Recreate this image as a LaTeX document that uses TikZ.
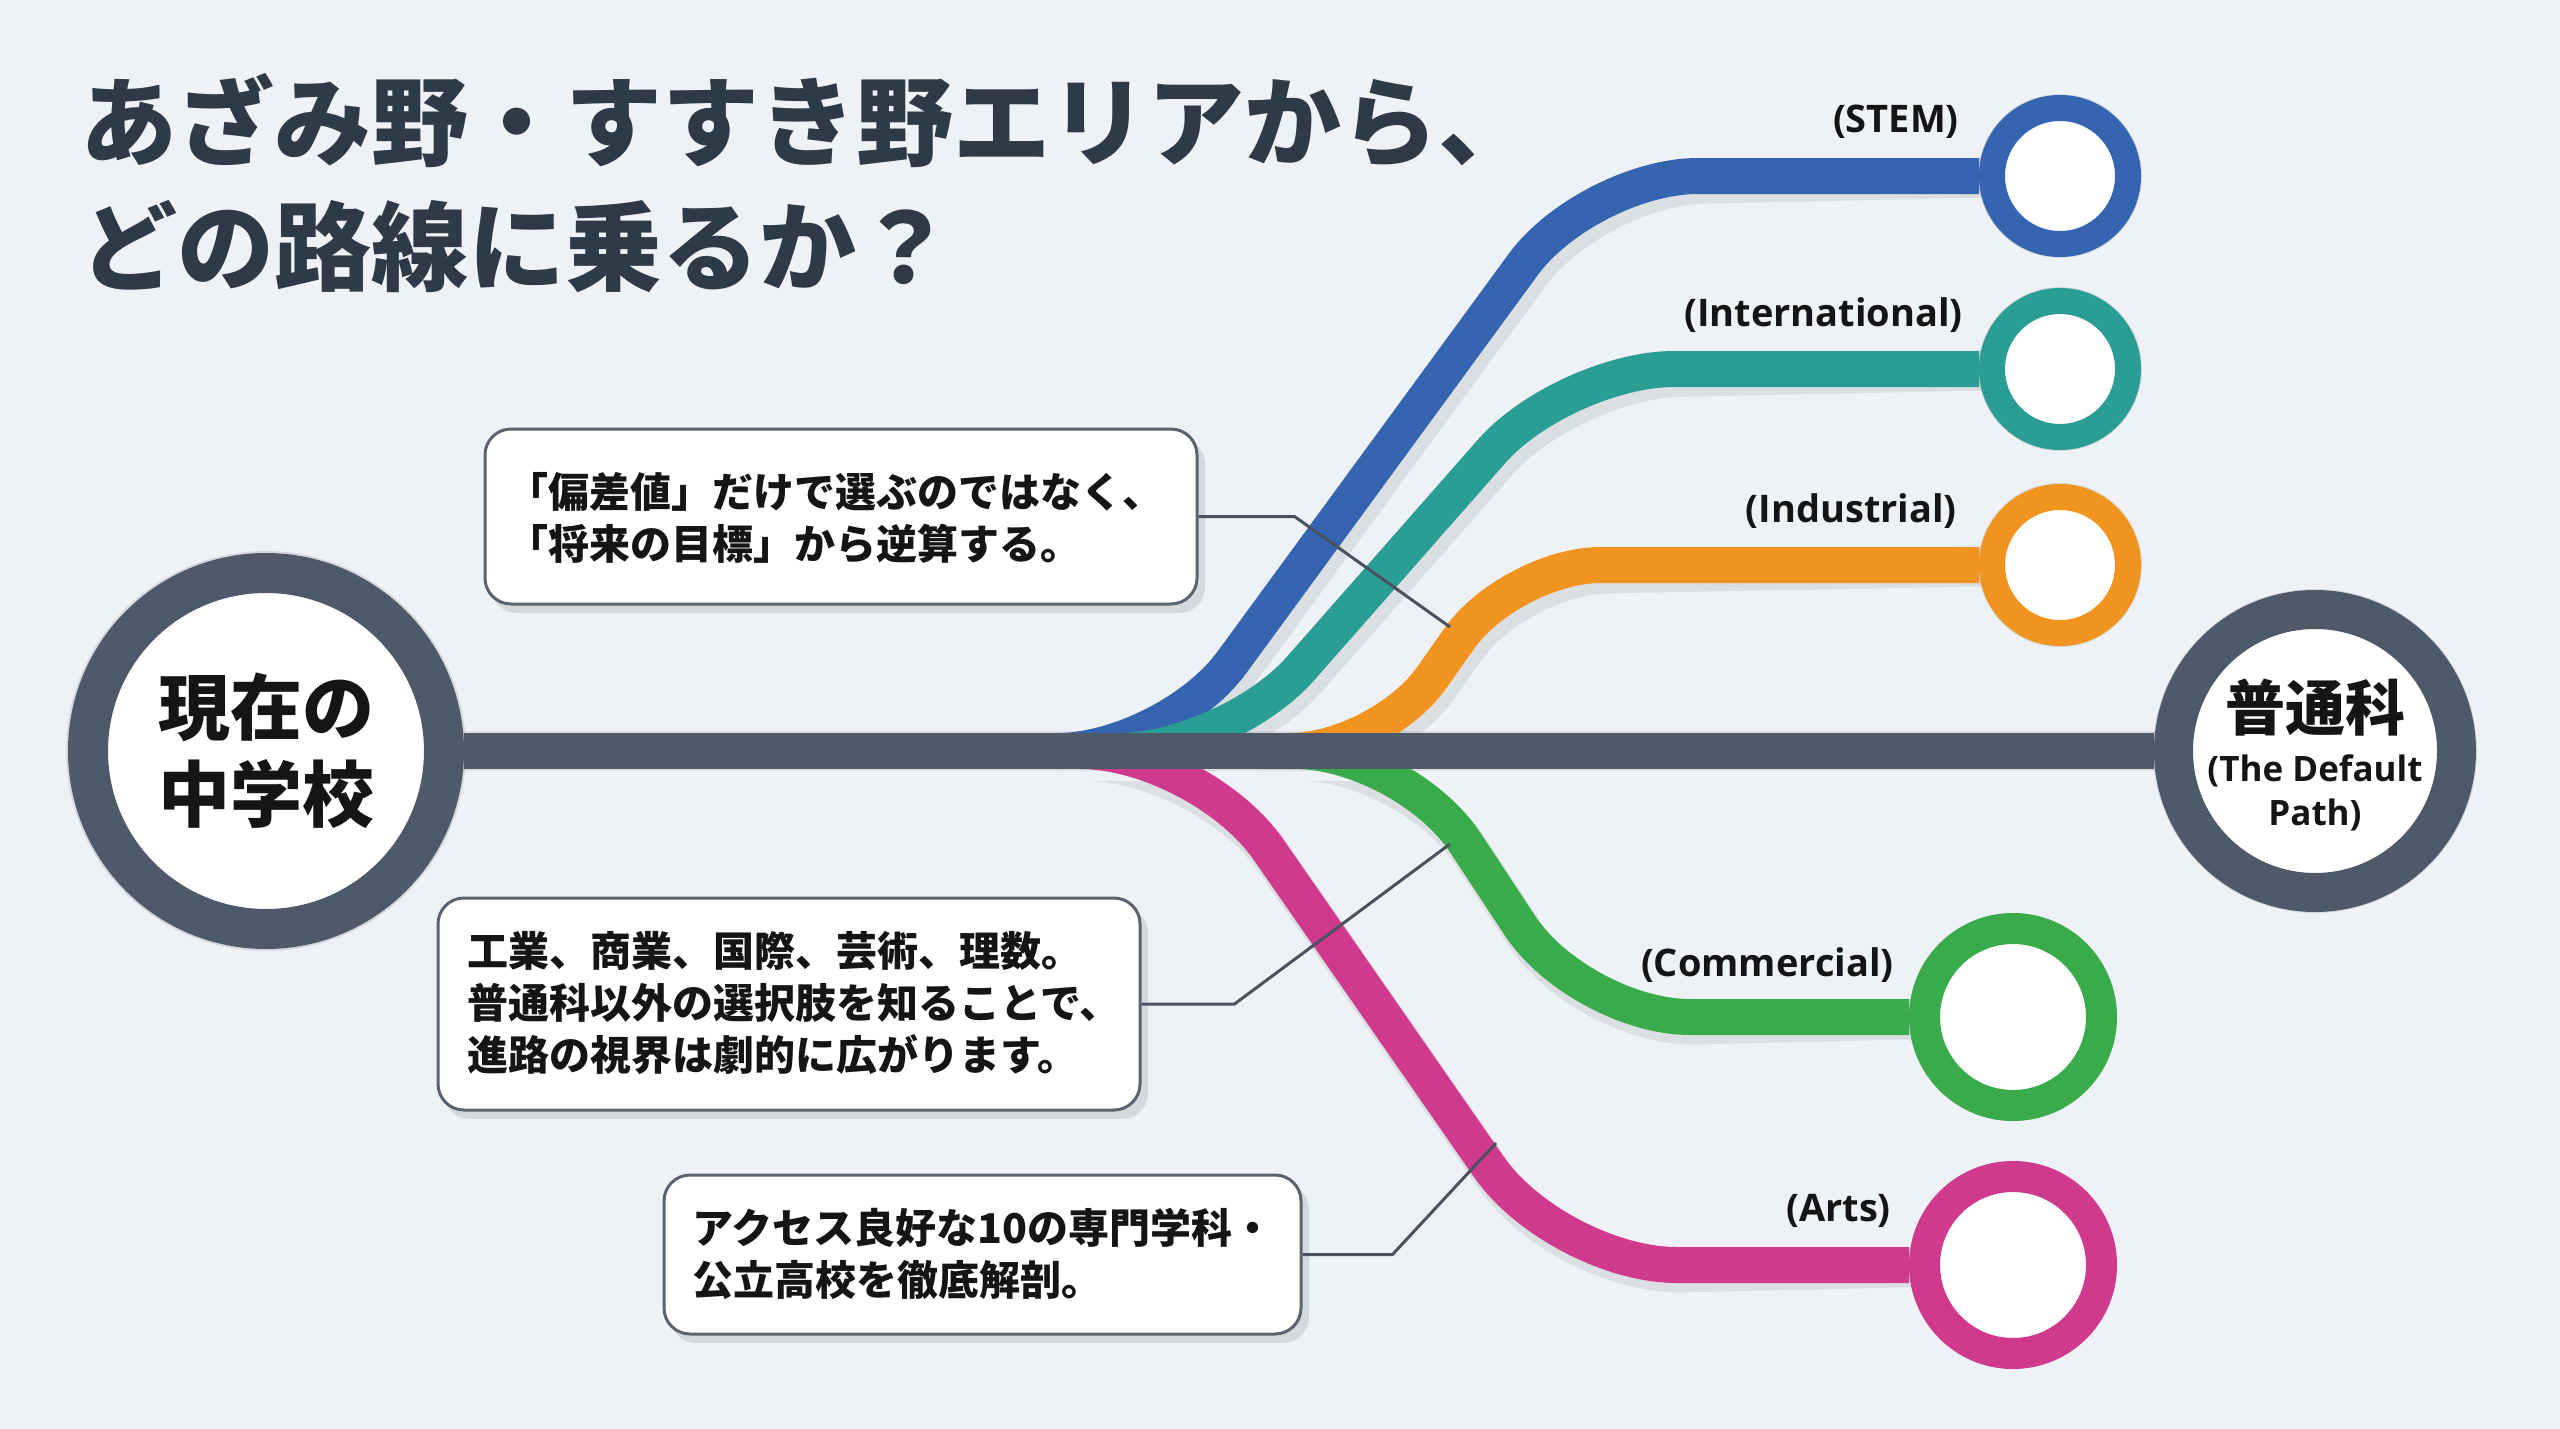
\documentclass[tikz,border=0pt]{standalone}
\usepackage{fontspec}
\setmainfont{Open Sans}
\newfontfamily\lat{Open Sans}
\newfontfamily\jp{Noto Sans CJK JP}
\definecolor{bgcol}{HTML}{EEF2F6}
\definecolor{titlecol}{HTML}{2E3A47}
\definecolor{maincol}{HTML}{4E5A6A}
\definecolor{bluecol}{HTML}{3565B0}
\definecolor{tealcol}{HTML}{2A9D95}
\definecolor{orangecol}{HTML}{F0931F}
\definecolor{greencol}{HTML}{3AAB4B}
\definecolor{magcol}{HTML}{D03A8E}
\definecolor{boxline}{HTML}{5A6370}
\definecolor{leadcol}{HTML}{4A5260}
\definecolor{labelcol}{HTML}{151515}
\begin{document}
\begin{tikzpicture}[x=1pt,y=-1pt,
  branch/.style={line width=36pt},
  shadowline/.style={line width=40pt, draw=black, opacity=0.08},
  stop/.style={circle, fill=white, inner sep=0pt, line width=26pt, minimum size=136pt},
  bigstop/.style={circle, fill=white, inner sep=0pt, line width=31pt, minimum size=177pt},
  callout/.style={draw=boxline, line width=3pt, fill=white, rounded corners=26pt, inner sep=0pt},
  boxshadow/.style={fill=black, opacity=0.10, rounded corners=26pt},
  lead/.style={draw=leadcol, line width=3pt},
  lbl/.style={font=\lat\bfseries\fontsize{38}{48}\selectfont, text=labelcol, anchor=base east, inner sep=0pt},
  boxtext/.style={font=\jp\bfseries\fontsize{41}{52}\selectfont, align=left, anchor=west, inner sep=0pt, text=labelcol},
  titletext/.style={font=\jp\bfseries\fontsize{97}{125}\selectfont, text=titlecol, anchor=base west, inner sep=0pt},
]
\fill[bgcol] (0,0) rectangle (2560,1429);
\useasboundingbox (0,0) rectangle (2560,1429);

% title
\node[titletext] (title1) at (80,158) {あざみ野・すすき野エリアから、};
\node[titletext] (title2) at (80,283) {どの路線に乗るか？};

% key coordinates
\coordinate (pS) at (2060,176);
\coordinate (pI) at (2060,369);
\coordinate (pN) at (2060,565);
\coordinate (pC) at (2013,1017);
\coordinate (pA) at (2013,1265);
\coordinate (pL) at (266,751);
\coordinate (pR) at (2315,751);

% shadows
\begin{scope}[shift={(6,10)}]
  \begin{scope}
    \clip (0,0) rectangle (2560,724);
    \draw[shadowline, rounded corners=110pt] (1060,751) -- (1167,751) -- (1588,176) -- (pS);
    \draw[shadowline, rounded corners=110pt] (1110,751) -- (1228,751) -- (1564,369) -- (pI);
    \draw[shadowline, rounded corners=90pt] (1260,751) -- (1380,751) -- (1511,565) -- (pN);
  \end{scope}
  \begin{scope}
    \clip (0,771) rectangle (2560,1429);
    \draw[shadowline, rounded corners=110pt] (1290,751) -- (1405,751) -- (1580,1017) -- (pC);
    \draw[shadowline, rounded corners=120pt] (1090,751) -- (1200,751) -- (1557,1265) -- (pA);
  \end{scope}
  \draw[shadowline] (pL) -- (pR);
  \fill[black, opacity=0.10] (pS) circle (82);
  \fill[black, opacity=0.10] (pI) circle (82);
  \fill[black, opacity=0.10] (pN) circle (82);
  \fill[black, opacity=0.10] (pC) circle (104);
  \fill[black, opacity=0.10] (pA) circle (104);
  \fill[black, opacity=0.10] (pL) circle (200);
  \fill[black, opacity=0.10] (pR) circle (162);
\end{scope}

% terminal stations
\node[stop, draw=bluecol] (stem) at (pS) {};
\node[stop, draw=tealcol] (intl) at (pI) {};
\node[stop, draw=orangecol] (indu) at (pN) {};
\node[bigstop, draw=greencol] (comm) at (pC) {};
\node[bigstop, draw=magcol] (arts) at (pA) {};

% branches
\draw[branch, bluecol, rounded corners=110pt] (1060,751) -- (1167,751) -- (1588,176) -- (stem);
\draw[branch, tealcol, rounded corners=110pt] (1110,751) -- (1228,751) -- (1564,369) -- (intl);
\draw[branch, orangecol, rounded corners=90pt] (1260,751) -- (1380,751) -- (1511,565) -- (indu);
\draw[branch, greencol, rounded corners=110pt] (1290,751) -- (1405,751) -- (1580,1017) -- (comm);
\draw[branch, magcol, rounded corners=120pt] (1090,751) -- (1200,751) -- (1557,1265) -- (arts);

% main stations
\node[circle, draw=maincol, line width=40pt, fill=white, minimum size=356pt, inner sep=0pt,
      font=\jp\bfseries\fontsize{72}{87}\selectfont, text=labelcol, align=center] (school) at (pL) {現在の\\中学校};
\node[circle, draw=maincol, line width=39pt, fill=white, minimum size=283pt, inner sep=0pt] (futsu) at (pR) {};
\node[anchor=base, inner sep=0pt, font=\jp\bfseries\fontsize{60}{60}\selectfont, text=labelcol] (futsuA) at (2315,730) {普通科};
\node[anchor=base, inner sep=0pt, font=\lat\bfseries\fontsize{35}{44}\selectfont, text=labelcol] (futsuB) at (2315,781) {(The Default};
\node[anchor=base, inner sep=0pt, font=\lat\bfseries\fontsize{35}{44}\selectfont, text=labelcol] (futsuC) at (2315,825) {Path)};

% main line
\draw[line width=36pt, maincol] (school) -- (futsu);

% line labels
\node[lbl] (lS) at (1959,132) {(STEM)};
\node[lbl] (lI) at (1963,326) {(International)};
\node[lbl] (lN) at (1957,522) {(Industrial)};
\node[lbl] (lC) at (1894,976) {(Commercial)};
\node[lbl] (lA) at (1891,1221) {(Arts)};

% callout boxes
\fill[boxshadow] (491,438) rectangle (1205,613);
\fill[boxshadow] (444,907) rectangle (1148,1119);
\fill[boxshadow] (670,1184) rectangle (1309,1343);
\node[callout, minimum width=712pt, minimum height=175pt] (b1) at (841,516.5) {};
\node[callout, minimum width=702pt, minimum height=212pt] (b2) at (789,1004) {};
\node[callout, minimum width=637pt, minimum height=159pt] (b3) at (982.5,1254.5) {};
\node[boxtext] (t1) at (507,518) {「偏差値」だけで選ぶのではなく、\\「将来の目標」から逆算する。};
\node[boxtext] (t2) at (467,1003) {工業、商業、国際、芸術、理数。\\普通科以外の選択肢を知ることで、\\進路の視界は劇的に広がります。};
\node[boxtext] (t3) at (692,1254) {アクセス良好な10の専門学科・\\公立高校を徹底解剖。};

% leader lines
\coordinate (k1) at (1450,627);
\coordinate (k2) at (1450,844);
\coordinate (k3) at (1496,1143);
\draw[lead] (b1.east) -- ++(96,0) -- (k1);
\draw[lead] (b2.east) -- ++(93,0) -- (k2);
\draw[lead] (b3.east) -- ++(90,0) -- (k3);
\end{tikzpicture}
\end{document}
